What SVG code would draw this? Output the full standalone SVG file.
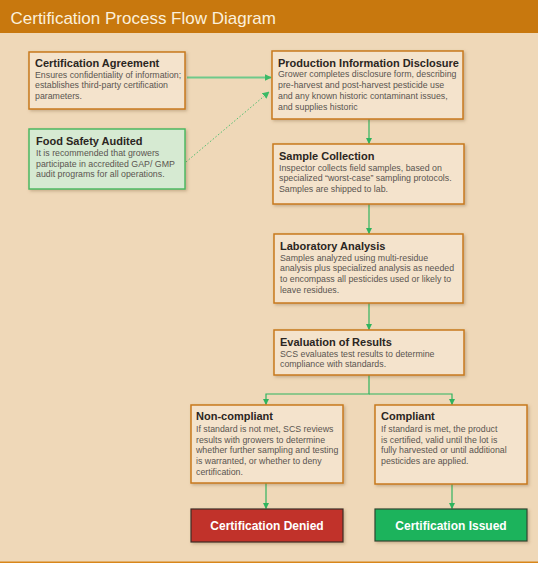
<svg xmlns="http://www.w3.org/2000/svg" width="538" height="563" viewBox="0 0 538 563">
<defs>
<filter id="sh" x="-10%" y="-10%" width="125%" height="130%">
<feDropShadow dx="1.5" dy="1.5" stdDeviation="1.5" flood-color="#7a5a30" flood-opacity="0.35"/>
</filter>
<marker id="ah" viewBox="0 0 10 10" refX="9" refY="5" markerWidth="6" markerHeight="6" orient="auto" markerUnits="userSpaceOnUse">
<path d="M0,0 L10,5 L0,10 z" fill="#2fb45e"/>
</marker>
<marker id="ahl" viewBox="0 0 10 10" refX="9" refY="5" markerWidth="7" markerHeight="7" orient="auto" markerUnits="userSpaceOnUse">
<path d="M0,0 L10,5 L0,10 z" fill="#3cba66"/>
</marker>
</defs>
<style>
.box{fill:#f4e3cc;stroke:#c8791c;stroke-width:1.5;filter:url(#sh)}
.t{font-family:"Liberation Sans",Arial,sans-serif;font-size:11px;font-weight:bold;fill:#2b2622}
.b{font-family:"Liberation Sans",Arial,sans-serif;font-size:8.8px;fill:#5a5550}
.c{fill:none;stroke:#2fb45e;stroke-width:1.2}
.end{font-family:"Liberation Sans",Arial,sans-serif;font-size:12px;font-weight:bold;fill:#ffffff}
</style>
<rect x="0" y="0" width="538" height="563" fill="#efd8b8"/>
<rect x="0" y="0" width="538" height="33" fill="#c8780e"/>
<text x="10.5" y="23.5" font-family="'Liberation Sans',Arial,sans-serif" font-size="17" fill="#fbf0dc">Certification Process Flow Diagram</text>
<rect x="0" y="561.5" width="538" height="1.5" fill="#d8861a"/>

<g id="connectors">
<line x1="187" y1="77.5" x2="271" y2="77.5" style="fill:none;stroke:#6fc98a;stroke-width:2" marker-end="url(#ahl)"/>
<line x1="186" y1="162" x2="269" y2="92" style="fill:none;stroke:#3cba66;stroke-width:0.9;stroke-dasharray:1.5,2" marker-end="url(#ahl)"/>
<line class="c" x1="369" y1="119" x2="369" y2="143.5" marker-end="url(#ah)"/>
<line class="c" x1="369" y1="204" x2="369" y2="233.5" marker-end="url(#ah)"/>
<line class="c" x1="369" y1="303" x2="369" y2="329.5" marker-end="url(#ah)"/>
<polyline class="c" points="369,375 369,394 266,394 266,404.5" marker-end="url(#ah)"/>
<polyline class="c" points="369,394 452,394 452,404.5" marker-end="url(#ah)"/>
<line class="c" x1="266" y1="483" x2="266" y2="508.5" marker-end="url(#ah)"/>
<line class="c" x1="452" y1="484" x2="452" y2="508.5" marker-end="url(#ah)"/>
</g>

<g id="cert-agreement">
<rect class="box" x="29" y="52" width="156" height="57"/>
<text class="t" x="35" y="67">Certification Agreement</text>
<text class="b" x="35" y="77.5">Ensures confidentiality of information;</text>
<text class="b" x="35" y="88.2">establishes third-party certification</text>
<text class="b" x="35" y="98.9">parameters.</text>
</g>

<g id="food-safety">
<rect x="29" y="129" width="156" height="60" fill="#d6ead2" stroke="#4cb862" stroke-width="1.5" filter="url(#sh)"/>
<text class="t" x="36" y="144.5">Food Safety Audited</text>
<text class="b" x="36" y="156">It is recommended that growers</text>
<text class="b" x="36" y="166.7">participate in accredited GAP/ GMP</text>
<text class="b" x="36" y="177.4">audit programs for all operations.</text>
</g>

<g id="production">
<rect class="box" x="272" y="51" width="191" height="68"/>
<text class="t" x="278" y="66.7">Production Information Disclosure</text>
<text class="b" x="278" y="77.3">Grower completes disclosure form, describing</text>
<text class="b" x="278" y="88.1">pre-harvest and post-harvest pesticide use</text>
<text class="b" x="278" y="98.9">and any known historic contaminant issues,</text>
<text class="b" x="278" y="109.7">and supplies historic</text>
</g>

<g id="sample">
<rect class="box" x="273" y="144" width="191" height="60"/>
<text class="t" x="279" y="160">Sample Collection</text>
<text class="b" x="279" y="170.7">Inspector collects field samples, based on</text>
<text class="b" x="279" y="181.3">specialized “worst-case” sampling protocols.</text>
<text class="b" x="279" y="192">Samples are shipped to lab.</text>
</g>

<g id="lab">
<rect class="box" x="274" y="234" width="189" height="69"/>
<text class="t" x="280" y="250">Laboratory Analysis</text>
<text class="b" x="280" y="260.7">Samples analyzed using multi-residue</text>
<text class="b" x="280" y="271.4">analysis plus specialized analysis as needed</text>
<text class="b" x="280" y="282.1">to encompass all pesticides used or likely to</text>
<text class="b" x="280" y="292.8">leave residues.</text>
</g>

<g id="evaluation">
<rect class="box" x="274" y="330" width="190" height="45"/>
<text class="t" x="280" y="346">Evaluation of Results</text>
<text class="b" x="280" y="356.7">SCS evaluates test results to determine</text>
<text class="b" x="280" y="367.4">compliance with standards.</text>
</g>

<g id="noncompliant">
<rect class="box" x="191" y="405" width="152" height="78"/>
<text class="t" x="196" y="420">Non-compliant</text>
<text class="b" x="196" y="432">If standard is not met, SCS reviews</text>
<text class="b" x="196" y="442.7">results with growers to determine</text>
<text class="b" x="196" y="453.4">whether further sampling and testing</text>
<text class="b" x="196" y="464.1">is warranted, or whether to deny</text>
<text class="b" x="196" y="474.8">certification.</text>
</g>

<g id="compliant">
<rect class="box" x="375" y="405" width="152" height="79"/>
<text class="t" x="381" y="420">Compliant</text>
<text class="b" x="381" y="432">If standard is met, the product</text>
<text class="b" x="381" y="442.7">is certified, valid until the lot is</text>
<text class="b" x="381" y="453.4">fully harvested or until additional</text>
<text class="b" x="381" y="464.1">pesticides are applied.</text>
</g>

<g id="denied">
<rect x="191" y="509" width="152" height="33" fill="#c1302a" stroke="#3d2c28" stroke-width="1.2" filter="url(#sh)"/>
<text class="end" x="267" y="530" text-anchor="middle">Certification Denied</text>
</g>

<g id="issued">
<rect x="375" y="509" width="152" height="32" fill="#1fb35b" stroke="#2d4632" stroke-width="1.2" filter="url(#sh)"/>
<text class="end" x="451" y="529.5" text-anchor="middle">Certification Issued</text>
</g>
</svg>
